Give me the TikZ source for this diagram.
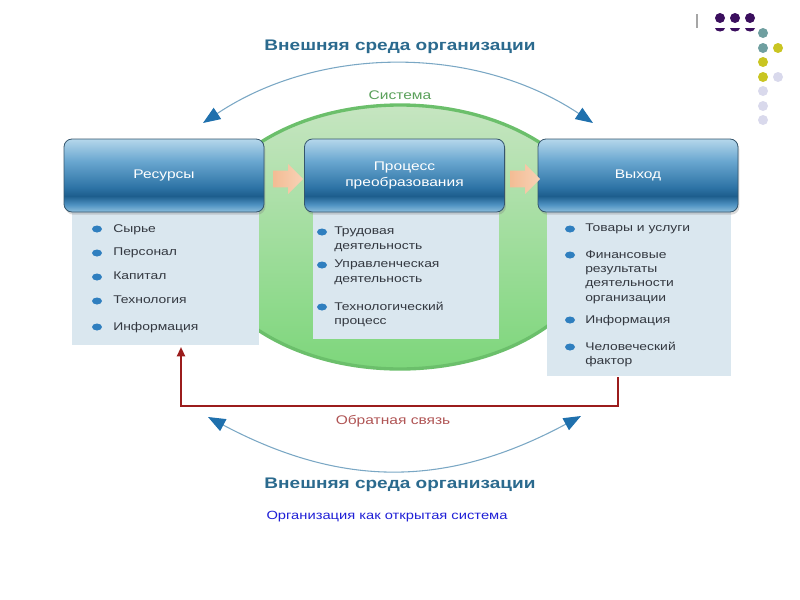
\documentclass[tikz,border=0pt]{standalone}
\usepackage{fontspec}
\setmainfont{Liberation Sans}[FakeStretch=1.24]
\usetikzlibrary{arrows.meta,shapes.arrows,shadows}
\definecolor{hdrA}{HTML}{8CBEDC}
\definecolor{hdrB}{HTML}{4F92C2}
\definecolor{hdrC}{HTML}{1D5E8D}
\definecolor{hdrD}{HTML}{2E74A6}
\definecolor{hdrE}{HTML}{6AA7D0}
\definecolor{hdrF}{HTML}{B5D7EB}
\definecolor{hdrline}{HTML}{35566D}
\definecolor{panelc}{HTML}{DAE7EF}
\definecolor{txtc}{HTML}{333840}
\definecolor{bltc}{HTML}{2F7FBF}
\definecolor{envtxt}{HTML}{2B6A8E}
\definecolor{envline}{HTML}{7AA7C4}
\definecolor{envarr}{HTML}{1F70AD}
\definecolor{sysgreen}{HTML}{5AA05A}
\definecolor{ringc}{HTML}{6BBF6B}
\definecolor{ringtop}{HTML}{C6E5C1}
\definecolor{ringbot}{HTML}{7DD67B}
\definecolor{fbred}{HTML}{9B1C1C}
\definecolor{fbtxt}{HTML}{B05555}
\definecolor{orangeL}{HTML}{F3BC94}
\definecolor{orangeR}{HTML}{F8D2B6}
\definecolor{capblue}{HTML}{1F1FD6}
\definecolor{dotp}{HTML}{3B0F5E}
\definecolor{dott}{HTML}{6F9FA0}
\definecolor{doty}{HTML}{C9C522}
\definecolor{dotl}{HTML}{D9D9EC}
\pgfdeclareverticalshading{hdrshade}{100bp}{color(0bp)=(hdrA); color(25bp)=(hdrA); color(30bp)=(hdrB); color(36bp)=(hdrC); color(42bp)=(hdrD); color(60bp)=(hdrE); color(75bp)=(hdrF); color(100bp)=(hdrF)}

\begin{document}
\begin{tikzpicture}[x=0.75pt,y=-0.75pt,
  hdr/.style={draw=hdrline, line width=0.6pt, rounded corners=6pt, shade, shading=hdrshade,
    minimum width=150pt, minimum height=54.75pt, inner sep=0, text=white, align=center,
    font=\fontsize{9.4}{12}\selectfont, drop shadow={opacity=0.3, shadow xshift=1pt, shadow yshift=-2pt}},
  panel/.style={fill=panelc, inner sep=0},
  item/.style={anchor=north west, inner sep=0, align=left, text=txtc, font=\fontsize{8.4}{10.8}\selectfont},
  blt/.style={fill=bltc},
  envarc/.style={draw=envline, line width=0.8pt, {Triangle[length=13pt,width=10pt,color=envarr]}-{Triangle[length=13pt,width=10pt,color=envarr]}},
  envtitle/.style={text=envtxt, font=\fontsize{11.5}{14}\selectfont\bfseries},
  flow/.style={single arrow, shade, left color=orangeL, right color=orangeR, minimum height=22.5pt, minimum width=22pt,
    single arrow head extend=5pt, inner xsep=0, inner ysep=6pt}]
\useasboundingbox (0,0) rectangle (800,600);

\shade[top color=ringtop, bottom color=ringbot, draw=ringc, line width=2.5pt] (400,237) ellipse [x radius=200, y radius=132];

\node[panel, minimum width=140.25pt, minimum height=99.75pt] (resp) at (165.5,278.5) {};
\node[panel, minimum width=139.5pt, minimum height=95.25pt] (procp) at (406,275.5) {};
\node[panel, minimum width=138pt, minimum height=123pt] (outp) at (639,294) {};

\node[hdr] (res) at (164,175.5) {Ресурсы};
\node[hdr] (proc) at (404.5,175.5) {Процесс\\преобразования};
\node[hdr] (out) at (638,175.5) {Выход};

\node[flow] (f1) at (284,179) {};
\node[flow] (f2) at (521,179) {};

\foreach \y/\t in {229/Сырье, 253/Персонал, 277/Капитал, 301/Технология, 327/Информация}{
  \fill[blt] (97,\y) ellipse [x radius=5, y radius=3.5];
  \node[item] (r\y) at (113,\y-5) {\t};
}
\foreach \y/\t in {232/{Трудовая\\деятельность}, 265/{Управленческая\\деятельность}, 307/{Технологический\\процесс}}{
  \fill[blt] (322,\y) ellipse [x radius=5, y radius=3.5];
  \node[item] (p\y) at (334,\y-5) {\t};
}
\foreach \y/\t in {229/{Товары и услуги}, 255/{Финансовые\\результаты\\деятельности\\организации}, 320/Информация, 347/{Человеческий\\фактор}}{
  \fill[blt] (570,\y) ellipse [x radius=5, y radius=3.5];
  \node[item] (o\y) at (585,\y-5) {\t};
}

\node[text=sysgreen, font=\fontsize{9.4}{12}\selectfont] (sys) at (400,95) {Система};
\node[envtitle] (envtop) at (400,47) {Внешняя среда организации};
\node[envtitle] (envbot) at (400,485) {Внешняя среда организации};

\coordinate (ta1) at (203,123);
\coordinate (ta2) at (593,123);
\coordinate (ba1) at (208,417);
\coordinate (ba2) at (581,416);
\draw[envarc] (ta1) .. controls (320,45) and (476,45) .. (ta2);
\draw[envarc] (ba1) .. controls (342,488) and (447,488) .. (ba2);

\coordinate (fbr) at (618,377);
\coordinate (fbb) at (400,406);
\coordinate (fbl) at (181,347);
\draw[fbred, line width=1.5pt, -{Triangle[length=7pt,width=6pt]}] (fbr) |- (fbb) -| (fbl);
\node[text=fbtxt, font=\fontsize{9.4}{12}\selectfont] (fbt) at (393,421) {Обратная связь};

\node[text=capblue, font=\fontsize{8.9}{10}\selectfont] (cap) at (387,517) {Организация как открытая система};

\draw[gray!70, line width=1pt] (697,14) -- (697,28);
\foreach \x in {720,735,750}{
  \fill[dotp] (\x+5,28) arc [start angle=0, end angle=180, x radius=5, y radius=3.5] -- cycle;
  \fill[dotp] (\x,18) circle [radius=5];
}
\fill[dott] (763,33) circle [radius=5];
\fill[dott] (763,48) circle [radius=5];
\fill[doty] (778,48) circle [radius=5];
\fill[doty] (763,62) circle [radius=5];
\fill[doty] (763,77) circle [radius=5];
\fill[dotl] (778,77) circle [radius=5];
\foreach \y in {91,106,120}
  \fill[dotl] (763,\y) circle [radius=5];
\end{tikzpicture}
\end{document}
